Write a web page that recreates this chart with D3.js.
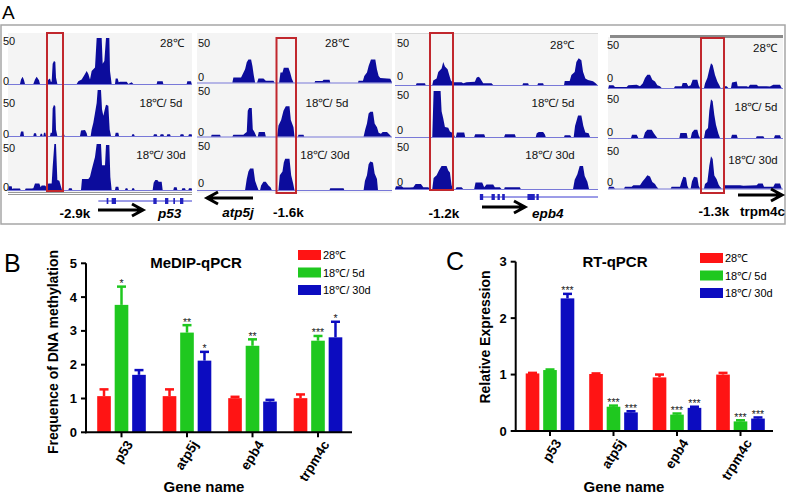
<!DOCTYPE html>
<html><head><meta charset="utf-8">
<script src="https://cdn.jsdelivr.net/npm/d3@7"></script>
<style>
body{margin:0;background:#fff}
svg{display:block;font-family:Arial,"Liberation Sans",Helvetica,sans-serif}
</style>
</head><body>
<svg id="chart" width="790" height="494"></svg>
<script>
// ---------------- DATA ----------------
const genes = ["p53", "atp5j", "epb4", "trpm4c"];
const conditions = ["28℃", "18℃/ 5d", "18℃/ 30d"];
const trackTicks = [0, 50];

// Panel B: MeDIP-qPCR
const medip28 = [1.07, 1.07, 1.01, 1.01];
const medip28Err = [0.20, 0.20, 0.04, 0.11];
const medip5d = [3.77, 2.95, 2.56, 2.71];
const medip5dErr = [0.54, 0.22, 0.19, 0.14];
const medip30d = [1.70, 2.12, 0.91, 2.81];
const medip30dErr = [0.14, 0.26, 0.05, 0.46];
const medipStars5d = ["*", "**", "**", "***"];
const medipStars30d = ["", "*", "", "*"];
const medipTicks = [0, 1, 2, 3, 4, 5];

// Panel C: RT-qPCR
const rt28 = [1.02, 1.01, 0.95, 1.00];
const rt28Err = [0.01, 0.01, 0.05, 0.03];
const rt5d = [1.08, 0.43, 0.29, 0.17];
const rt5dErr = [0.01, 0.02, 0.02, 0.02];
const rt30d = [2.35, 0.33, 0.41, 0.22];
const rt30dErr = [0.08, 0.02, 0.02, 0.02];
const rtStars5d = ["", "***", "***", "***"];
const rtStars30d = ["***", "***", "***", "***"];
const rtTicks = [0, 1, 2, 3];

// Panel A: coverage tracks (genomic bin, signal)
const p53Region = [24, 576];
const p53Track28 = [[30,0],[60,0],[63,5],[68,8],[72,4],[75,0],[100,0],[105,5],[110,8],[117,4],[120,0],[140,0],[143,4],[150,6],[153,2],[155,3],[158,22],[162,25],[166,24],[168,7],[172,0],[230,0],[235,3],[245,5],[255,11],[260,14],[265,11],[270,5],[275,14],[280,16],[285,18],[290,50],[305,50],[308,22],[313,25],[318,50],[328,50],[330,14],[335,0],[345,0],[347,6],[353,6],[356,2],[360,2.5],[380,2.5],[385,0],[395,2],[400,0],[470,0],[472,3],[488,3],[490,0],[560,0],[562,3],[573,3],[575,0]];
const p53Track5d = [[30,0],[60,0],[63,5],[70,5],[72,0],[100,0],[102,3],[108,3],[110,0],[120,0],[122,2.5],[126,2.5],[128,0],[130,0],[132,3.6],[136,3.6],[138,0],[150,0],[152,3.6],[156,3.6],[158,30],[162,34],[166,32],[168,7],[172,0],[185,0],[187,2],[192,2],[194,0],[240,0],[243,6],[255,6.5],[260,3],[262,0],[272,0],[275,7],[280,14.5],[285,25],[290,36],[293,50],[303,50],[306,29],[310,22],[315,30],[318,34],[325,33],[329,7],[333,0],[345,0],[347,3.6],[355,3.6],[357,0],[395,0],[397,2],[402,2],[404,0],[460,0],[462,2],[470,2],[472,0],[480,0],[482,2],[490,2],[492,0],[500,0],[502,2],[510,2],[512,0],[540,0],[542,2],[550,2],[552,0],[565,0],[567,2],[575,2],[576,0]];
const p53Track30d = [[25,0],[27,4],[35,4],[37,1],[40,1.5],[60,1.5],[62,0],[75,0],[77,1.5],[95,1.5],[100,2],[105,7],[118,7],[122,3],[125,5],[135,5],[140,3],[145,7],[155,7],[158,25],[163,50],[168,50],[172,11],[178,10],[182,5],[186,0],[205,0],[207,2],[215,2],[217,0],[243,0],[246,12],[265,12],[270,14.5],[275,22],[285,36],[290,50],[303,50],[306,27],[315,27],[318,49],[328,49],[331,14],[335,0],[345,0],[347,3.6],[355,3.6],[357,0],[375,0],[377,2],[382,2],[384,0],[395,0],[397,2],[402,2],[404,0],[458,0],[461,8],[466,11],[472,11],[476,9],[485,9],[488,0],[520,0],[522,3],[530,3],[532,0],[545,0],[547,2],[555,2],[557,0],[565,0],[567,2],[575,2],[576,0]];
const p53Exons = [[320,325],[335,348],[460,470],[495,505],[520,525],[540,550]];
const p53GeneSpan = [295, 576];

const atp5jRegion = [6, 590];
const atp5jTrack28 = [[6,0],[112,0],[115,5.4],[138,5.4],[150,14.5],[155,22],[160,25],[168,25],[172,18],[176,8],[180,0],[186,0],[190,4.3],[205,4.3],[212,2],[235,2],[238,0],[252,0],[256,11],[262,11],[266,16],[280,16],[285,11],[290,4],[295,0],[358,0],[360,1.5],[382,1.5],[385,3],[403,3],[405,0],[488,0],[490,2],[503,2],[507,7],[515,11],[520,18],[527,25],[540,25],[545,14],[550,7],[555,5],[585,4],[590,0]];
const atp5jTrack5d = [[6,0],[48,0],[50,2],[75,2],[77,0],[112,0],[115,2],[145,2],[150,3.6],[155,5],[158,28],[162,31],[170,31],[173,8],[178,5],[184,0],[188,0],[191,5],[209,5],[212,0],[246,0],[250,12],[258,18],[265,28],[272,33],[283,33],[287,18],[295,10],[298,0],[308,0],[310,2],[325,2],[327,0],[505,0],[510,8],[515,14],[520,25],[525,27],[533,27],[538,14],[545,10],[550,4],[557,3],[562,5],[575,5],[583,2],[588,0]];
const atp5jTrack30d = [[6,0],[150,0],[155,12],[160,20],[165,23.5],[175,23.5],[180,10],[185,5],[190,0],[195,0],[198,5],[205,9],[212,9],[220,5],[226,3],[230,0],[250,0],[254,16],[262,20],[266,30],[270,34],[283,34],[288,16],[294,7],[298,0],[403,0],[405,2],[445,2],[447,0],[505,0],[509,10],[515,16],[520,28],[525,31],[533,30],[538,18],[545,12],[548,0]];

const epb4Region = [0, 610];
const epb4Track28 = [[0,0],[63,0],[65,2],[90,2],[92,0],[112,0],[115,5],[125,7],[130,14],[140,18],[145,25],[150,20],[158,17],[163,11],[168,5],[173,3],[178,3],[200,3],[205,2],[215,3],[240,3.6],[245,8],[250,9],[255,8],[260,5],[265,2],[290,2],[295,0],[383,0],[385,2],[400,2],[402,0],[428,0],[430,2],[445,2],[447,0],[508,0],[510,4.3],[525,4.3],[530,11],[540,14],[545,25],[552,29],[560,27],[565,14.5],[572,7],[580,5.4],[595,4],[603,2],[608,0]];
const epb4Track5d = [[0,0],[112,0],[116,50],[137,50],[140,28],[145,20],[150,11],[160,10],[165,6],[175,4],[180,0],[183,0],[186,5],[208,5],[211,0],[238,0],[241,3],[268,3],[271,0],[328,0],[331,3],[360,3],[363,0],[423,0],[426,4],[432,5.4],[445,5.4],[450,3],[453,0],[508,0],[510,2],[526,2],[530,0],[537,0],[541,12],[550,23.5],[560,23.5],[566,12],[572,5],[582,4],[586,0]];
const epb4Track30d = [[0,0],[3,3],[20,3],[25,1.5],[45,1.5],[55,2],[62,5.4],[78,5.4],[85,2],[100,2],[105,0],[112,0],[116,12],[125,15],[132,20],[140,25],[155,25],[160,20],[165,18],[170,4],[175,0],[182,0],[185,2],[200,2],[205,0],[238,0],[242,7],[262,7],[268,2],[275,5],[295,5],[300,2],[315,2],[320,0],[328,0],[330,2],[375,2],[378,0],[535,0],[540,10],[548,16],[555,25],[565,25],[570,14],[578,8],[583,0]];
const epb4Exons = [[255,265],[290,300],[308,315],[322,330],[398,420],[425,432]];
const epb4GeneSpan = [255, 610];

const trpm4cRegion = [24, 549];
const trpm4cTrack28 = [[25,0],[27,3],[40,3],[45,1],[80,1],[85,3],[110,3.6],[120,2],[128,5],[135,11],[142,14.5],[150,14.5],[157,9],[165,7],[172,3],[180,2],[185,0],[222,0],[225,2],[245,2],[248,5.4],[260,5.4],[265,2],[272,3],[278,9],[292,9],[296,3],[300,0],[312,0],[315,5],[322,11],[328,20],[333,27],[338,25],[345,14],[352,7],[358,3],[362,0],[368,0],[370,2],[380,2],[385,0],[393,0],[396,6],[410,7],[413,2],[420,2],[440,2],[445,1],[450,3.6],[470,3.6],[475,2],[500,2],[510,1.5],[520,3.6],[540,3.6],[545,0]];
const trpm4cTrack5d = [[25,0],[93,0],[96,3.6],[110,3.6],[115,0],[130,0],[135,6],[142,9],[155,9],[162,5],[168,2],[172,0],[238,0],[241,5.4],[260,5.4],[263,0],[272,0],[276,6],[283,9],[292,9],[296,3],[300,0],[312,0],[316,8],[324,11],[328,30],[333,42],[338,40],[343,25],[348,14],[355,5],[360,0],[393,0],[396,3.6],[410,3.6],[413,0],[468,0],[470,2],[490,2],[493,0],[522,0],[525,3],[540,3],[543,0]];
const trpm4cTrack30d = [[25,0],[27,2],[40,2],[45,0],[72,0],[75,2],[95,2],[100,3.6],[120,3.6],[128,8],[135,11],[142,14.5],[150,13],[157,7],[165,5],[170,2],[175,0],[212,0],[215,2],[240,2],[245,8],[250,12.7],[258,12],[262,3],[266,0],[272,0],[276,8],[282,12.7],[292,12],[296,3],[300,0],[312,0],[315,5],[322,7],[328,25],[333,35],[338,32],[343,14],[350,10],[356,4],[360,2],[365,0],[373,0],[375,3.6],[420,3.6],[430,3],[470,3.6],[475,5.4],[488,5.4],[492,2],[520,2],[525,5.4],[540,5.4],[545,0]];

const promoterLabels = ["-2.9k", "-1.6k", "-1.2k", "-1.3k"];

// ---------------- DRAW ----------------
const svg = d3.select("#chart");
const RED = "#ff1414", GREEN = "#1fc81f", BLUE = "#0c0cc0";
const PEAK = "#0c0c9c", BASE = "#7878d8", BOX = "#c1272d";

// Panel A frame
svg.append("rect").attr("x", 1).attr("y", 25).attr("width", 784).attr("height", 199)
  .attr("fill", "none").attr("stroke", "#a6a6a6").attr("stroke-width", 1.5);
svg.append("text").attr("x", 2).attr("y", 19).attr("font-size", 19).text("A");

const subs = [
  {region: p53Region, tracks: [p53Track28, p53Track5d, p53Track30d], x0: 8, x1: 192, top: 33, bottom: 192,
   bases: [84, 136, 190], lblX: 3, fiftyY: [45, 107, 152], zeroY: [85, 138, 191],
   condX: [172, 161, 161], condY: [47, 107, 159], box: [47, 33, 63, 191]},
  {region: atp5jRegion, tracks: [atp5jTrack28, atp5jTrack5d, atp5jTrack30d], x0: 197, x1: 392, top: 33, bottom: 193,
   bases: [82.5, 136.5, 190], lblX: 198, fiftyY: [47, 95, 150], zeroY: [81, 136, 187],
   condX: [337, 327, 325], condY: [47, 107, 159], box: [276.5, 38, 296, 193]},
  {region: epb4Region, tracks: [epb4Track28, epb4Track5d, epb4Track30d], x0: 395, x1: 598, top: 33, bottom: 190,
   bases: [85, 137, 189], lblX: 397, fiftyY: [47, 99, 151], zeroY: [80, 134, 186],
   condX: [562, 553, 550], condY: [49, 107, 159], box: [430, 33, 453, 190]},
  {region: trpm4cRegion, tracks: [trpm4cTrack28, trpm4cTrack5d, trpm4cTrack30d], x0: 608, x1: 783, top: 37, bottom: 190,
   bases: [88, 138, 188.5], lblX: 607, fiftyY: [49, 103, 155], zeroY: [82, 136, 186],
   condX: [765, 756, 753], condY: [52, 111, 164], box: [701, 38, 724, 193]}
];

const defs = svg.append("defs");
subs.forEach((s, si) => {
  const g = svg.append("g");
  g.append("rect").attr("x", s.x0).attr("y", s.top).attr("width", s.x1 - s.x0).attr("height", s.bottom - s.top)
    .attr("fill", "#f4f4f4");
  defs.append("clipPath").attr("id", "clip" + si).append("rect")
    .attr("x", s.x0).attr("y", s.top - 6).attr("width", s.x1 - s.x0).attr("height", s.bottom - s.top + 8);
  const xs = d3.scaleLinear().domain(s.region).range([s.x0, s.x1]);
  s.tracks.forEach((tr, ti) => {
    const base = s.bases[ti];
    const ys = d3.scaleLinear().domain([0, 50]).range([base, base - 46]).clamp(true);
    g.append("line").attr("x1", s.x0).attr("x2", s.x1).attr("y1", base + 0.5).attr("y2", base + 0.5)
      .attr("stroke", BASE).attr("stroke-width", 1);
    const area = d3.area().x(d => xs(d[0])).y0(ys(0)).y1(d => ys(d[1]));
    g.append("path").datum(tr).attr("d", area).attr("fill", PEAK).attr("clip-path", "url(#clip" + si + ")");
    g.append("text").attr("x", s.lblX).attr("y", s.fiftyY[ti]).attr("font-size", 11).attr("fill", "#111").text(trackTicks[1]);
    g.append("text").attr("x", s.lblX).attr("y", s.zeroY[ti]).attr("font-size", 11).attr("fill", "#111").text(trackTicks[0]);
    g.append("text").attr("x", s.condX[ti]).attr("y", s.condY[ti]).attr("font-size", 11.5).attr("fill", "#111")
      .attr("text-anchor", "middle").text(conditions[ti]);
  });
  s.xs = xs;
});

// extra decorations panel A
svg.append("line").attr("x1", 8).attr("x2", 192).attr("y1", 192.5).attr("y2", 192.5).attr("stroke", "#999");
svg.append("line").attr("x1", 8).attr("x2", 192).attr("y1", 194.5).attr("y2", 194.5).attr("stroke", "#999");
svg.append("line").attr("x1", 395).attr("x2", 598).attr("y1", 33.5).attr("y2", 33.5).attr("stroke", "#d8d8d8");
svg.append("line").attr("x1", 610).attr("x2", 783).attr("y1", 36.5).attr("y2", 36.5).attr("stroke", "#8a8a8a").attr("stroke-width", 3);

// gene models
function geneModel(s, span, exons, y) {
  const xs = s.xs;
  svg.append("line").attr("x1", xs(span[0])).attr("x2", xs(span[1])).attr("y1", y).attr("y2", y)
    .attr("stroke", "#3a3ad0").attr("stroke-width", 1);
  svg.selectAll(null).data(exons).enter().append("rect")
    .attr("x", d => xs(d[0])).attr("width", d => Math.max(1.5, xs(d[1]) - xs(d[0])))
    .attr("y", y - 3).attr("height", 6).attr("fill", "#2222c0");
}
geneModel(subs[0], p53GeneSpan, p53Exons, 201);
geneModel(subs[2], epb4GeneSpan, epb4Exons, 197);

// arrows
function arrow(xa, xb, y) {
  const dir = xb > xa ? 1 : -1;
  svg.append("path").attr("d", `M${xa},${y}L${xb},${y}M${xb - dir * 11},${y - 6}L${xb},${y}L${xb - dir * 11},${y + 6}`)
    .attr("fill", "none").attr("stroke", "#000").attr("stroke-width", 3).attr("stroke-linejoin", "miter");
}
arrow(98, 143, 210);
arrow(253, 207, 198);
arrow(482, 525, 207);
arrow(738, 782, 195);

function label(txt, x, y, anchor, italic) {
  svg.append("text").attr("x", x).attr("y", y).attr("font-size", 13.5).attr("font-weight", "bold")
    .attr("font-style", italic ? "italic" : "normal").attr("text-anchor", anchor).text(txt);
}
label(promoterLabels[0], 75, 218, "middle", false);
label(genes[0], 158, 218, "start", true);
label(genes[1], 238, 217, "middle", true);
label(promoterLabels[1], 273, 217, "start", false);
label(promoterLabels[2], 444, 218, "middle", false);
label(genes[2], 532, 218, "start", true);
label(promoterLabels[3], 714, 216, "middle", false);
label(genes[3], 740, 216, "start", false);

// red highlight boxes on top
subs.forEach(s => {
  const b = s.box;
  svg.append("rect").attr("x", b[0]).attr("y", b[1]).attr("width", b[2] - b[0]).attr("height", b[3] - b[1])
    .attr("fill", "none").attr("stroke", BOX).attr("stroke-width", 2);
});

// ---------------- bar charts ----------------
function barChart(cfg) {
  const g = svg.append("g");
  const y = d3.scaleLinear().domain([0, cfg.max]).range([cfg.y0, cfg.y1]);
  const x0 = d3.scaleBand().domain(genes).range(cfg.band).paddingInner(0).paddingOuter(0);
  const inner = 48.6;
  const x1 = d3.scaleBand().domain(conditions).range([0, inner]).paddingInner(0.22);
  const series = [
    {c: conditions[0], v: cfg.s[0], e: cfg.e[0], st: null, col: RED},
    {c: conditions[1], v: cfg.s[1], e: cfg.e[1], st: cfg.st[0], col: GREEN},
    {c: conditions[2], v: cfg.s[2], e: cfg.e[2], st: cfg.st[1], col: BLUE}
  ];
  series.forEach(se => {
    genes.forEach((gn, i) => {
      const cx = x0(gn) + x0.bandwidth() / 2 - inner / 2 + x1(se.c);
      const w = x1.bandwidth();
      const top = y(se.v[i] + se.e[i]);
      g.append("line").attr("x1", cx + w / 2).attr("x2", cx + w / 2).attr("y1", y(se.v[i])).attr("y2", top)
        .attr("stroke", se.col).attr("stroke-width", 2.5);
      g.append("line").attr("x1", cx + w / 2 - 4.5).attr("x2", cx + w / 2 + 4.5).attr("y1", top).attr("y2", top)
        .attr("stroke", se.col).attr("stroke-width", 2.5);
      g.append("rect").attr("x", cx).attr("width", w).attr("y", y(se.v[i])).attr("height", y(0) - y(se.v[i]))
        .attr("fill", se.col);
      if (se.st && se.st[i]) {
        g.append("text").attr("x", cx + w / 2).attr("y", top + 0.5).attr("text-anchor", "middle")
          .attr("font-size", 10.5).attr("fill", "#222").text(se.st[i]);
      }
    });
  });
  g.append("line").attr("x1", cfg.ax).attr("x2", cfg.ax).attr("y1", y(0) + 1).attr("y2", y(cfg.max))
    .attr("stroke", "#000").attr("stroke-width", 2);
  g.append("line").attr("x1", cfg.ax - 1).attr("x2", cfg.axEnd).attr("y1", y(0)).attr("y2", y(0))
    .attr("stroke", "#000").attr("stroke-width", 2);
  cfg.ticks.forEach(t => {
    g.append("line").attr("x1", cfg.ax - 5).attr("x2", cfg.ax).attr("y1", y(t)).attr("y2", y(t))
      .attr("stroke", "#000").attr("stroke-width", 2);
    g.append("text").attr("x", cfg.ax - 9).attr("y", y(t) + 4.5).attr("text-anchor", "end")
      .attr("font-size", 13).attr("font-weight", "bold").text(t);
  });
  genes.forEach(gn => {
    const cx = x0(gn) + x0.bandwidth() / 2;
    g.append("line").attr("x1", cx).attr("x2", cx).attr("y1", y(0)).attr("y2", y(0) + 5)
      .attr("stroke", "#000").attr("stroke-width", 2);
    g.append("text").attr("transform", `translate(${cx + 12},${y(0) + 12}) rotate(-58)`)
      .attr("text-anchor", "end").attr("font-size", 13.5).attr("font-weight", "bold").text(gn);
  });
  g.append("text").attr("x", cfg.title[0]).attr("y", cfg.title[1]).attr("text-anchor", "middle")
    .attr("font-size", 15).attr("font-weight", "bold").text(cfg.title[2]);
  g.append("text").attr("transform", `translate(${cfg.ylab[0]},${cfg.ylab[1]}) rotate(-90)`)
    .attr("text-anchor", "middle").attr("font-size", 14).attr("font-weight", "bold").text(cfg.ylab[2]);
  g.append("text").attr("x", cfg.xlab[0]).attr("y", cfg.xlab[1]).attr("text-anchor", "middle")
    .attr("font-size", 15).attr("font-weight", "bold").text("Gene name");
  g.append("text").attr("x", cfg.letter[0]).attr("y", cfg.letter[1]).attr("font-size", 25).text(cfg.letter[2]);
  [RED, GREEN, BLUE].forEach((col, i) => {
    g.append("rect").attr("x", cfg.leg[0]).attr("y", cfg.leg[1] + i * 17.5).attr("width", 23).attr("height", 10).attr("fill", col);
    g.append("text").attr("x", cfg.leg[0] + 25).attr("y", cfg.leg[1] + i * 17.5 + 9).attr("font-size", 11).text(conditions[i]);
  });
}

barChart({max: 5, y0: 432.3, y1: 263.3, band: [88.75, 350.75], ax: 86, axEnd: 352, ticks: medipTicks,
  s: [medip28, medip5d, medip30d], e: [medip28Err, medip5dErr, medip30dErr], st: [medipStars5d, medipStars30d],
  title: [196, 268, "MeDIP-qPCR"], ylab: [58, 352, "Frequence of DNA methylation"], xlab: [204, 492],
  letter: [4, 272, "B"], leg: [298, 250]});
barChart({max: 3, y0: 431, y1: 261.7, band: [518.25, 772.25], ax: 515.7, axEnd: 773, ticks: rtTicks,
  s: [rt28, rt5d, rt30d], e: [rt28Err, rt5dErr, rt30dErr], st: [rtStars5d, rtStars30d],
  title: [615, 267, "RT-qPCR"], ylab: [490, 337, "Relative Expression"], xlab: [624, 492],
  letter: [446, 270, "C"], leg: [700, 253]});
</script>
</body></html>
